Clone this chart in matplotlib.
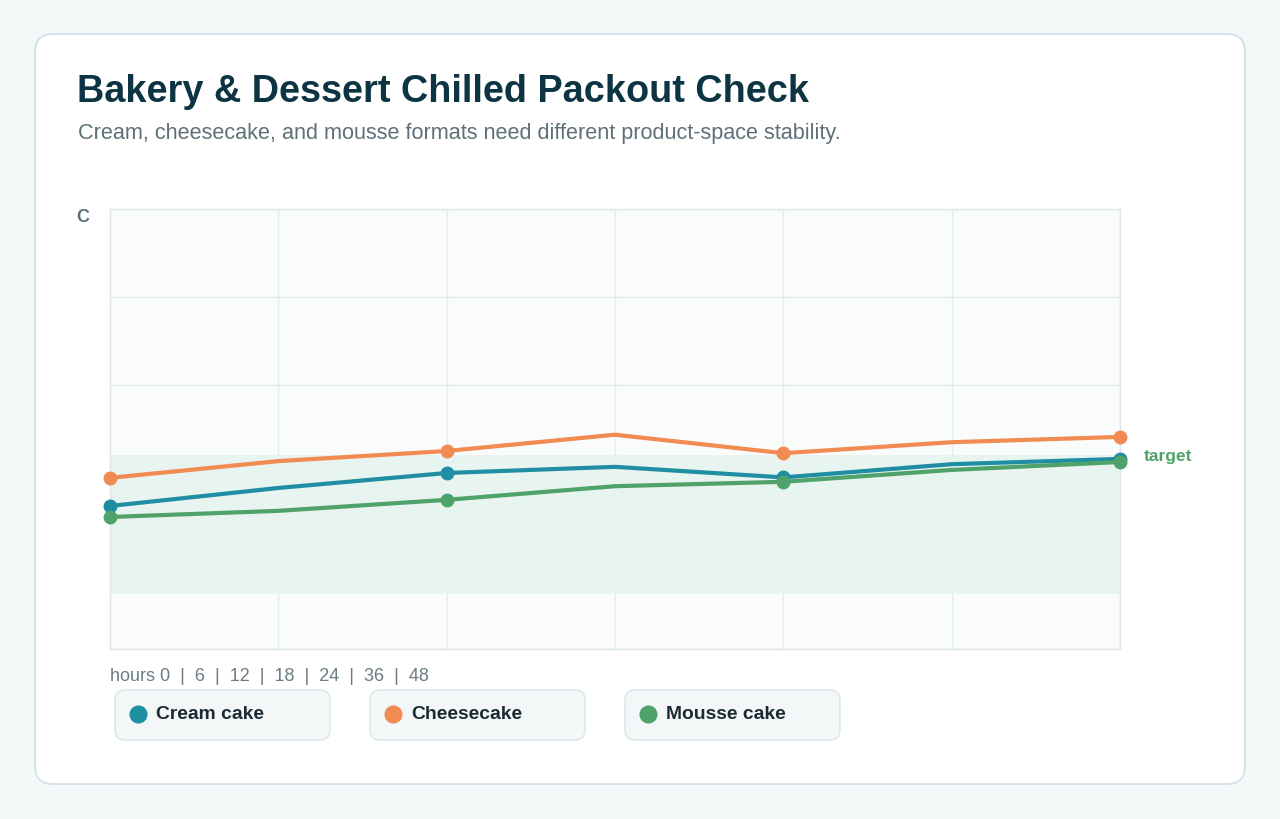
import numpy as np
import matplotlib
matplotlib.use("Agg")
import matplotlib.pyplot as plt
from matplotlib.patches import FancyBboxPatch

plt.rcParams['font.family'] = ['Liberation Sans', 'DejaVu Sans']

# chart data (temperature-like units)
hours = ["0", "6", "12", "18", "24", "36", "48"]
cream = [3.25, 3.66, 4.00, 4.14, 3.90, 4.20, 4.32]
cheesecake = [3.89, 4.27, 4.50, 4.87, 4.45, 4.70, 4.82]
mousse = [3.00, 3.14, 3.39, 3.70, 3.80, 4.07, 4.25]
series_names = ["Cream cake", "Cheesecake", "Mousse cake"]
series_colors = ["#1f8ea3", "#f28b52", "#4fa36a"]
target_low, target_high = 1.25, 4.4

title = "Bakery & Dessert Chilled Packout Check"
subtitle = "Cream, cheesecake, and mousse formats need different product-space stability."

W, H = 1280, 820
fig = plt.figure(figsize=(W / 100, H / 100), dpi=100)
fig.patch.set_facecolor("#f4f8f9")

# background axes in pixel coordinates (y goes down)
bg = fig.add_axes([0, 0, 1, 1], zorder=0)
bg.set_xlim(0, W)
bg.set_ylim(H, 0)
bg.axis("off")

card = FancyBboxPatch((35, 35), 1210, 750, boxstyle="round,pad=0,rounding_size=18",
                      facecolor="white", edgecolor="#d6e3e8", linewidth=1.5)
bg.add_patch(card)

bg.text(77, 92, title, fontsize=27.3, fontweight="bold", color="#0d3442", va="center", ha="left")
bg.text(78, 134, subtitle, fontsize=15.6, color="#5f7078", va="center", ha="left")
bg.text(76, 217, "C", fontsize=13, fontweight="bold", color="#5f7078", va="center", ha="left")

# x labels as one string, like the original
bg.text(110, 677, "hours " + "  |  ".join(hours), fontsize=13, color="#6b7c85",
        va="center", ha="left")

# legend chips
chip_x = [115, 370, 625]
for x0, name, col in zip(chip_x, series_names, series_colors):
    chip = FancyBboxPatch((x0, 691), 215, 50, boxstyle="round,pad=0,rounding_size=10",
                          facecolor="#f3f7f8", edgecolor="#d8e5ea", linewidth=1)
    bg.add_patch(chip)
    bg.plot([x0 + 23], [715], "o", color=col, markersize=12)
    bg.text(x0 + 41, 715, name, fontsize=13.9, fontweight="bold", color="#1c2b33",
            va="center", ha="left")

# main plot
ax = fig.add_axes([110 / W, 1 - 650 / H, 1010 / W, 440 / H], zorder=1)
ax.set_facecolor("#fafcfc")
x = np.arange(len(hours))
ax.set_xlim(0, len(hours) - 1)
ax.set_ylim(0, 10)
ax.set_xticks(x)
ax.set_yticks(np.arange(0, 11, 2))
ax.grid(True, color="#e3ecef", linewidth=1)
ax.tick_params(length=0, labelbottom=False, labelleft=False)
for s in ax.spines.values():
    s.set_color("#dde8ec")
    s.set_linewidth(1)

# target band sits over the grid
ax.axhspan(target_low, target_high, color="#e7f4f0", zorder=2, linewidth=0)

for vals, col in zip([cream, cheesecake, mousse], series_colors):
    ax.plot(x, vals, color=col, linewidth=3, marker="o", markersize=9,
            markevery=2, zorder=3, clip_on=False)

ax.text(1.024, target_high, "target", transform=ax.get_yaxis_transform(),
        fontsize=12.5, fontweight="bold", color="#4fa36a", va="center", ha="left")

fig.savefig("out.png", dpi=100, facecolor=fig.get_facecolor())
